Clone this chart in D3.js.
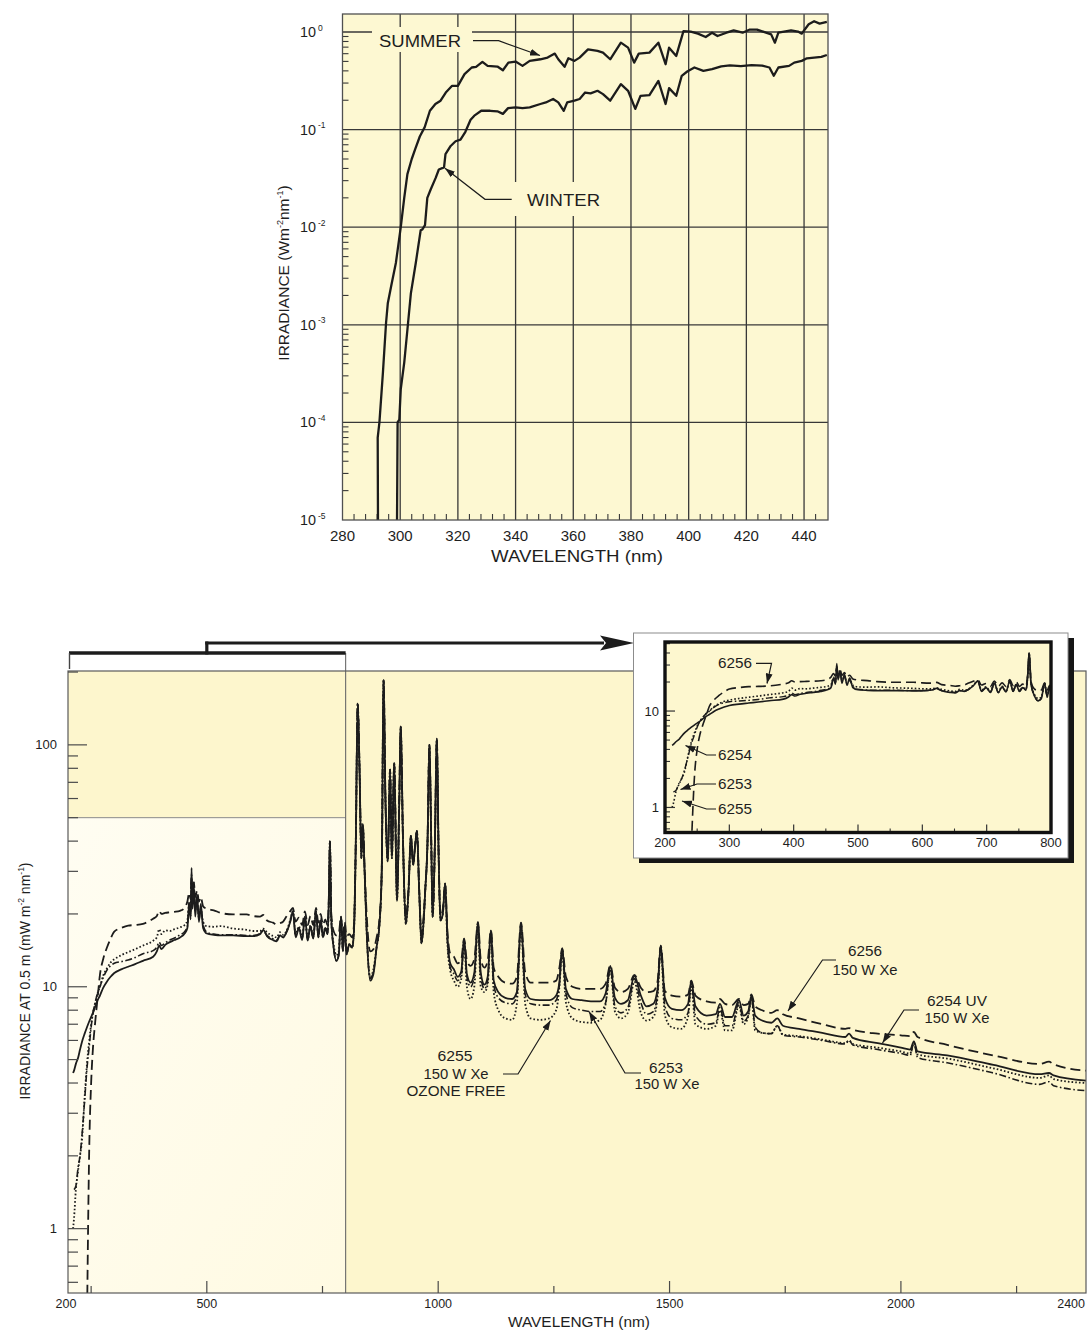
<!DOCTYPE html>
<html>
<head>
<meta charset="utf-8">
<script src="https://cdn.jsdelivr.net/npm/d3@7"></script>
<style>
html,body{margin:0;padding:0;background:#ffffff;}
svg{display:block;}
text{font-family:"Liberation Sans",Arial,Helvetica,sans-serif;fill:#1e1e1e;}
</style>
</head>
<body>
<svg id="chart" width="1090" height="1332"></svg>
<script>
// ================= DATA =================
// Top chart: solar UV irradiance, summer and winter
const summerWavelength = [292.3,292.2,292.8,294.0,295.1,295.7,297.0,298.5,300.2,301.4,
  302.5,304.0,305.2,306.8,308.5,310.3,312.2,314.0,315.8,318.0,
  320.0,322.3,324.8,326.3,328.5,330.3,333.7,335.6,337.5,340.0,
  342.4,344.9,348.6,351.1,353.6,354.8,357.0,358.3,360.4,362.2,
  365.1,368.4,370.3,372.8,376.5,379.0,381.1,382.7,386.4,389.5,
  392.0,393.2,395.7,398.2,400.7,403.2,405.9,408.1,410.0,413.1,
  415.6,418.7,421.2,423.7,426.8,428.6,429.9,431.1,435.5,437.9,
  439.2,441.6,443.5,445.4,447.9];
const summerIrradiance = [1.0e-5,7.0e-5,1.0e-4,3.2e-4,1.05e-3,1.66e-3,2.6e-3,4.3e-3,1.0e-2,2.0e-2,
  3.5e-2,5.0e-2,6.3e-2,8.5e-2,0.106,0.156,0.183,0.198,0.240,0.281,
  0.281,0.370,0.433,0.440,0.494,0.450,0.443,0.406,0.486,0.498,
  0.450,0.506,0.526,0.547,0.601,0.526,0.440,0.538,0.506,0.547,
  0.665,0.640,0.615,0.526,0.778,0.692,0.486,0.601,0.615,0.778,
  0.468,0.692,0.569,1.02,1.01,0.962,0.889,0.984,0.910,0.984,
  1.04,0.984,1.06,1.06,0.984,0.946,0.778,0.984,1.04,1.01,
  0.962,1.20,1.29,1.22,1.27];
const winterWavelength = [298.9,299.1,299.7,300.2,301.4,302.5,303.7,305.4,307.1,307.7,
  308.6,309.4,310.6,312.3,313.4,315.2,315.7,317.5,319.2,320.9,
  322.6,324.4,325.7,328.1,331.2,333.7,335.6,337.4,340.0,342.4,
  344.9,348.6,350.5,353.0,354.8,356.7,357.9,360.4,362.2,364.1,
  366.0,368.4,370.3,372.8,376.5,379.0,381.5,383.3,386.4,389.5,
  392.0,393.2,395.7,397.6,399.5,402.0,405.1,408.1,411.3,414.3,
  418.1,421.8,425.5,428.0,429.5,431.1,434.8,436.6,439.2,441.0,
  443.5,446.0,447.9];
const winterIrradiance = [1.0e-5,1.0e-4,1.07e-4,2.2e-4,4.1e-4,8.9e-4,2.1e-3,4.3e-3,9.3e-3,9.5e-3,
  1.05e-2,2.0e-2,2.45e-2,3.2e-2,3.9e-2,4.1e-2,5.6e-2,6.8e-2,7.6e-2,7.9e-2,
  9.5e-2,0.126,0.139,0.156,0.156,0.154,0.145,0.166,0.169,0.166,
  0.169,0.183,0.190,0.206,0.190,0.156,0.190,0.198,0.206,0.240,
  0.235,0.250,0.231,0.198,0.292,0.250,0.163,0.222,0.226,0.316,
  0.183,0.266,0.222,0.356,0.394,0.433,0.400,0.416,0.445,0.455,
  0.448,0.458,0.452,0.433,0.356,0.433,0.450,0.486,0.506,0.538,
  0.547,0.556,0.582];
const seasonXTicks = [280,300,320,340,360,380,400,420,440];
const seasonYDecades = [1e-5,1e-4,1e-3,1e-2,1e-1,1];
const seasonYExponents = ["-5","-4","-3","-2","-1","0"];

// Bottom chart: 150 W Xe arc lamps, irradiance at 0.5 m
const lampWavelength = [211,213,217,222,226,230,236,241,246,250,
  254,258,264,269,276,284,292,300,315,330,
  345,362,384,392,397,402,410,420,430,442,
  452,458,462,465,467,469,472,475,479,483,
  487,492,500,515,530,557,586,600,615,622,
  630,643,651,658,665,672,680,686,692,699,
  706,712,718,724,730,736,741,746,751,756,
  761,764,766,769,774,780,785,790,794,798,
  802,808,814,818,822,826,830,834,837,841,
  846,853,860,867,873,878,882,886,891,896,
  900,905,911,916,919,924,930,936,941,946,
  950,954,959,964,968,972,977,981,985,988,
  993,997,1001,1005,1010,1015,1020,1026,1034,1042,
  1050,1056,1062,1070,1078,1086,1092,1100,1107,1114,
  1120,1130,1145,1160,1170,1179,1188,1200,1220,1240,
  1255,1262,1268,1276,1290,1310,1330,1350,1362,1372,
  1382,1395,1410,1424,1438,1450,1465,1474,1481,1490,
  1505,1525,1540,1547,1556,1580,1600,1609,1620,1635,
  1650,1660,1670,1677,1685,1700,1720,1733,1745,1780,
  1830,1880,1888,1896,1950,2000,2020,2028,2036,2100,
  2200,2300,2320,2330,2400];
const lamp6254 = [4.4,4.5,4.8,5.1,5.5,5.9,6.4,6.8,7.2,7.5,
  7.8,8.2,8.8,9.2,9.9,10.5,11.0,11.4,11.8,12.1,
  12.4,12.8,13.3,14.0,14.8,14.3,14.9,15.3,15.6,16.0,
  16.6,17.5,22,19,31,21,26,19.5,24,18.5,
  22,17.5,16.6,16.4,16.3,16.3,16.2,16.2,16.5,17.2,
  16.2,15.6,15.4,16.3,16.0,16.8,18.5,20.5,16.0,17.5,
  15.6,19.5,15.5,17.8,15.8,20.5,16.0,18.8,16.0,17.5,
  16.5,24,40,19,14.5,12.8,13.5,19.5,14.0,18.0,
  13.6,15.0,14.5,17,40,148,80,34,47,30,
  16,10.6,11.3,14.6,18,30,185,60,33,79,
  34,84,22.7,60,119,40,18.2,25,42,32,
  38,44,25,15.1,18,25,40,100,40,19.4,
  40,106,35,18.8,20,26.7,16,12.5,11.8,11.0,
  11.6,15.8,11.3,10.4,11.4,18.5,11.4,10.2,11.0,17.1,
  10.6,9.5,9.0,8.9,9.5,18.4,9.8,8.9,8.8,8.8,
  9.2,10.5,14.4,9.8,8.9,8.8,8.7,8.7,9.4,12.2,
  9.0,8.5,8.8,11.1,9.2,8.3,8.5,9.8,14.8,9.0,
  8.1,8.0,8.5,10.6,8.3,7.6,7.7,8.5,7.5,7.5,
  8.8,7.6,7.9,9.2,7.6,7.25,7.1,7.4,6.9,6.7,
  6.45,6.2,6.4,6.15,5.85,5.6,5.5,5.95,5.4,5.2,
  4.75,4.35,4.4,4.3,4.09];
const lamp6253 = [null,1.45,1.5,1.8,2.0,2.4,3.4,4.6,5.7,6.8,
  7.8,8.5,9.4,10.0,10.9,11.7,12.2,12.5,12.7,12.9,
  13.2,13.7,14.1,14.6,15.3,14.8,15.2,15.6,15.9,16.4,
  16.9,17.8,22.5,19.5,29,22,27,20.5,23,19,
  21,18,16.8,16.5,16.4,16.4,16.3,16.3,16.6,17.0,
  16.3,15.8,15.6,16.3,16.0,16.8,18.5,20.5,16.2,17.5,
  15.8,19.5,15.6,17.8,15.9,20.5,16.0,18.8,16.0,17.5,
  16.5,24,40,19,14.5,12.8,13.5,19.5,14.0,18.0,
  13.6,15.0,14.5,17,40,148,80,34,47,30,
  16,10.8,11.5,14.6,18,30,185,60,33,79,
  34,84,22.7,60,119,40,18.2,25,42,32,
  38,44,25,15.1,18,25,40,100,40,19.4,
  40,106,35,18.8,20,26.7,15.5,12,11.3,10.6,
  11.2,15.6,11.0,10.0,11.0,18.3,11.0,9.8,10.6,17.0,
  10.2,9.0,8.6,8.5,9.2,18.2,9.3,8.5,8.4,8.4,
  8.8,10.2,14.2,9.4,8.2,8.0,7.9,7.9,8.6,12.0,
  8.3,7.8,8.2,10.8,8.6,7.7,7.9,9.4,14.6,8.3,
  7.4,7.3,7.8,10.4,7.6,7.0,7.1,8.2,6.9,6.9,
  8.6,7.2,7.6,9.0,6.8,6.45,6.4,6.9,6.3,6.2,
  6.0,5.8,6.0,5.75,5.5,5.3,5.2,5.9,5.1,4.85,
  4.4,3.95,4.05,3.9,3.72];
const lamp6255 = [1.0,1.1,1.45,1.75,2.0,2.3,3.5,4.8,6.0,7.0,
  7.8,8.4,9.4,10.0,11.1,11.9,12.6,13.0,13.5,13.9,
  14.3,14.8,15.5,16.0,17.3,16.5,17.1,17.0,17.3,17.6,
  18.0,18.8,22,20,27,22,25,21,22.5,19.5,
  21,18.5,17.8,17.7,17.8,17.4,17.2,17.0,17.0,17.4,
  16.8,16.2,16.0,16.8,16.4,17.0,18.8,20.5,16.5,17.8,
  16.0,19.5,15.8,18.0,16.0,20.5,16.3,19.0,16.3,17.6,
  16.8,24,40,19,15.0,13.5,14.0,19.0,14.5,17.5,
  14.0,15.0,14.5,17,40,148,80,34,47,30,
  16,11.0,11.8,14.6,18,30,185,60,33,79,
  34,84,22.7,60,119,40,18.2,25,42,32,
  38,44,25,15.1,18,25,40,100,40,19.4,
  40,106,35,18.8,20,26.7,15,11.7,10.6,10.0,
  10.8,15.5,10.0,8.9,10.0,18.0,10.0,9.5,10.2,17.0,
  9.5,8.0,7.4,7.3,8.5,18.0,8.5,7.4,7.3,7.4,
  8.0,10.0,14.0,8.6,7.4,7.15,7.1,7.3,8.5,11.8,
  7.9,7.4,7.8,10.5,7.8,7.25,7.5,9.0,14.5,7.6,
  6.8,6.7,7.5,10.0,7.0,6.7,6.9,8.0,6.6,6.6,
  8.4,7.0,7.5,9.0,6.6,6.45,6.4,6.9,6.35,6.25,
  6.05,5.85,6.0,5.8,5.6,5.4,5.3,5.85,5.25,5.05,
  4.6,4.2,4.3,4.15,4.0];
const lamp6256 = [null,null,null,null,null,null,null,0.4,2.2,4.0,
  5.6,6.9,9.0,11.2,13.0,14.5,15.8,16.9,17.5,17.9,
  18.0,18.2,19.1,19.6,20.6,20.0,20.2,20.3,20.4,20.6,
  21.2,22.5,24.5,23,28,24.5,27,23.5,25,22.5,
  23.5,21.5,21.0,20.7,20.2,19.9,19.9,19.6,19.5,19.8,
  18.8,18.4,18.1,18.3,18.6,19.5,20.5,21.2,18.6,19.3,
  18.0,20.5,18.0,19.6,18.0,21.2,18.4,20.0,18.0,19.0,
  18.0,25,40,20,17.0,16.3,16.5,19.5,16.5,18.5,
  16.2,16.5,16.0,18,40,148,80,36,47,31,
  19,14.0,14.3,16.0,19,30,185,60,34,79,
  35,84,24,60,119,40,19.5,26,42,32,
  38,44,25,16.5,19,25,40,100,40,20,
  40,106,35,19.5,21,26.7,17,13.7,13.3,12.5,
  13.0,15.8,12.8,12.2,13.0,18.5,13.0,12.0,12.8,17.1,
  12.0,11.0,10.4,10.3,11.0,18.4,11.5,10.4,10.4,10.4,
  10.6,12.0,14.4,11.0,10.0,9.8,9.8,9.8,10.3,12.3,
  9.9,9.5,9.8,11.2,9.9,9.5,9.6,10.5,14.8,9.6,
  9.2,9.1,9.3,10.6,9.2,8.7,8.6,8.9,8.5,8.4,
  8.9,8.4,8.5,9.3,8.3,8.0,7.8,8.0,7.7,7.4,
  7.0,6.7,6.75,6.65,6.4,6.3,6.25,6.5,6.2,5.75,
  5.2,4.8,4.9,4.78,4.5];
const lampXMajorTicks = [500,1000,1500,2000];
const lampXMinorTicks = [250,750,1250,1750,2250];
const lampXLabels = [200,500,1000,1500,2000,2400];
const lampYLabels = [1,10,100];
const insetXLabels = [200,300,400,500,600,700,800];
const insetXMinorTicks = [250,350,450,550,650,750];
const insetYLabels = [1,10];

// ================= DRAWING =================
const INK = "#1c1c1c";
const svg = d3.select("#chart");
const defs = svg.append("defs");
defs.append("marker").attr("id","arr").attr("viewBox","0 0 10 7")
  .attr("refX",10).attr("refY",3.5).attr("markerWidth",10).attr("markerHeight",7)
  .attr("markerUnits","userSpaceOnUse").attr("orient","auto")
  .append("path").attr("d","M0,0L10,3.5L0,7Z").attr("fill",INK);

function label(g, x, y, s, o) {
  o = o || {};
  const t = g.append("text").attr("x",x).attr("y",y).text(s)
    .attr("text-anchor", o.anchor || "middle")
    .style("font-size", (o.size || 14) + "px");
  if (o.len) t.attr("textLength", o.len).attr("lengthAdjust","spacingAndGlyphs");
  return t;
}
function isDecade(v){ const l = Math.log10(v); return Math.abs(l - Math.round(l)) < 1e-6; }

// ---------- TOP CHART ----------
const T = {l:342.5, r:828, t:14, b:520};
const tx = d3.scaleLinear().domain([280,448.3]).range([T.l,T.r]);
const ty = d3.scaleLog().domain([1e-5,1.53]).range([T.b,T.t]);
const gT = svg.append("g");
defs.append("clipPath").attr("id","clipT").append("rect")
  .attr("x",T.l).attr("y",T.t).attr("width",T.r-T.l).attr("height",T.b-T.t);
gT.append("rect").attr("x",T.l).attr("y",T.t).attr("width",T.r-T.l).attr("height",T.b-T.t)
  .attr("fill","#fdf8d2");
gT.selectAll("line.vg").data(seasonXTicks.filter(d => d > 280)).join("line")
  .attr("x1",d=>tx(d)).attr("x2",d=>tx(d)).attr("y1",T.t).attr("y2",T.b)
  .attr("stroke","#383838").attr("stroke-width",1.3);
gT.selectAll("line.hg").data(seasonYDecades.filter(d => d > 1e-5)).join("line")
  .attr("x1",T.l).attr("x2",T.r).attr("y1",d=>ty(d)).attr("y2",d=>ty(d))
  .attr("stroke","#383838").attr("stroke-width",1.3);
gT.selectAll("line.my").data(ty.ticks().filter(v => !isDecade(v))).join("line")
  .attr("x1",T.l).attr("x2",T.l+6).attr("y1",d=>ty(d)).attr("y2",d=>ty(d))
  .attr("stroke","#383838").attr("stroke-width",1.1);
gT.selectAll("line.mx").data(d3.range(284,448,4).filter(d => d % 20 !== 0)).join("line")
  .attr("x1",d=>tx(d)).attr("x2",d=>tx(d)).attr("y1",T.b).attr("y2",T.b-6)
  .attr("stroke","#383838").attr("stroke-width",1.1);
// label backgrounds interrupting the grid
gT.append("rect").attr("x",372).attr("y",27).attr("width",100).attr("height",25).attr("fill","#fdf8d2");
gT.append("rect").attr("x",513).attr("y",182).attr("width",93).attr("height",34).attr("fill","#fdf8d2");

const lineT = d3.line().x(d=>tx(d[0])).y(d=>ty(d[1]));
[[summerWavelength, summerIrradiance],[winterWavelength, winterIrradiance]].forEach(([w,v]) => {
  gT.append("path").attr("d", lineT(d3.zip(w,v))).attr("fill","none")
    .attr("stroke",INK).attr("stroke-width",2.3).attr("stroke-linejoin","round")
    .attr("clip-path","url(#clipT)");
});
gT.append("rect").attr("x",T.l).attr("y",T.t).attr("width",T.r-T.l).attr("height",T.b-T.t)
  .attr("fill","none").attr("stroke","#505050").attr("stroke-width",1.3);

// axis labels
seasonXTicks.forEach(d => label(gT, tx(d), 541, d, {size:14, len:25}));
seasonYDecades.forEach((d,i) => {
  label(gT, 300, ty(d)+5, "10", {size:14, anchor:"start", len:16});
  label(gT, 318, ty(d)-1.5, seasonYExponents[i], {size:8.5, anchor:"start"});
});
label(gT, 577, 562, "WAVELENGTH (nm)", {size:16, len:172});
{
  const yt = gT.append("text").attr("transform","translate(289,273) rotate(-90)")
    .attr("text-anchor","middle").style("font-size","15.5px");
  yt.append("tspan").text("IRRADIANCE (Wm");
  yt.append("tspan").attr("dy",-6).style("font-size","9px").text("-2");
  yt.append("tspan").attr("dy",6).text("nm");
  yt.append("tspan").attr("dy",-6).style("font-size","9px").text("-1");
  yt.append("tspan").attr("dy",6).text(")");
}
label(gT, 379, 46.5, "SUMMER", {size:16, anchor:"start", len:82});
label(gT, 527, 206, "WINTER", {size:16, anchor:"start", len:73});
gT.append("polyline").attr("points","473,40.7 498.6,40.7 540,55.5")
  .attr("fill","none").attr("stroke",INK).attr("stroke-width",1.2).attr("marker-end","url(#arr)");
gT.append("polyline").attr("points","511.7,199.3 485,199.3 445,168.3")
  .attr("fill","none").attr("stroke",INK).attr("stroke-width",1.2).attr("marker-end","url(#arr)");

// ---------- BOTTOM CHART ----------
const B = {l:68, r:1086, t:671, b:1293};
const bx = d3.scaleLinear().domain([200,2400]).range([B.l,B.r]);
const by = d3.scaleLog().domain([0.542,202]).range([B.b,B.t]);
const gB = svg.append("g");
defs.append("clipPath").attr("id","clipB").append("rect")
  .attr("x",B.l).attr("y",B.t).attr("width",B.r-B.l).attr("height",B.b-B.t);
const grad = defs.append("linearGradient").attr("id","cream").attr("x1","0").attr("x2","1").attr("y1","0").attr("y2","1");
grad.append("stop").attr("offset","0").attr("stop-color","#fffdf2");
grad.append("stop").attr("offset","1").attr("stop-color","#fffae2");
gB.append("rect").attr("x",B.l).attr("y",B.t).attr("width",B.r-B.l).attr("height",B.b-B.t)
  .attr("fill","#fdf6cd");
gB.append("rect").attr("x",bx(200)).attr("y",by(50)).attr("width",bx(800)-bx(200)).attr("height",B.b-by(50))
  .attr("fill","url(#cream)");
gB.append("line").attr("x1",bx(200)).attr("x2",bx(800)).attr("y1",by(50)).attr("y2",by(50))
  .attr("stroke","#8a8a8a").attr("stroke-width",1);
gB.append("line").attr("x1",bx(800)).attr("x2",bx(800)).attr("y1",653).attr("y2",B.b)
  .attr("stroke","#6a6a6a").attr("stroke-width",1.1);

const lampSeries = [
  {values: lamp6255, dash:"1.6,2.1", width:1.8},
  {values: lamp6253, dash:"7,2.5,1.6,2.5", width:1.6},
  {values: lamp6254, dash:null, width:1.8},
  {values: lamp6256, dash:"10,5", width:1.8}
];
function drawLamps(g, xs, ys, clip, wScale) {
  const line = d3.line().defined(d => d[1] != null)
    .x(d=>xs(d[0])).y(d=>ys(d[1])).curve(d3.curveMonotoneX);
  lampSeries.forEach(s => {
    g.append("path").attr("d", line(d3.zip(lampWavelength, s.values)))
      .attr("fill","none").attr("stroke",INK).attr("stroke-width",s.width*wScale)
      .attr("stroke-dasharray",s.dash).attr("stroke-linejoin","round")
      .attr("clip-path",`url(#${clip})`);
  });
}
drawLamps(gB, bx, by, "clipB", 1);
gB.append("rect").attr("x",B.l).attr("y",B.t).attr("width",B.r-B.l).attr("height",B.b-B.t)
  .attr("fill","none").attr("stroke","#5a5a5a").attr("stroke-width",1.2);

// ticks
gB.selectAll("line.yM").data(by.ticks().filter(isDecade)).join("line")
  .attr("x1",B.l).attr("x2",B.l+19).attr("y1",d=>by(d)).attr("y2",d=>by(d))
  .attr("stroke","#4a4a4a").attr("stroke-width",1.2);
gB.selectAll("line.ym").data(by.ticks().filter(v => !isDecade(v))).join("line")
  .attr("x1",B.l).attr("x2",B.l+10).attr("y1",d=>by(d)).attr("y2",d=>by(d))
  .attr("stroke","#4a4a4a").attr("stroke-width",1.2);
gB.selectAll("line.xM").data(lampXMajorTicks).join("line")
  .attr("x1",d=>bx(d)).attr("x2",d=>bx(d)).attr("y1",B.b).attr("y2",B.b-12)
  .attr("stroke","#4a4a4a").attr("stroke-width",1.2);
gB.selectAll("line.xm").data(lampXMinorTicks).join("line")
  .attr("x1",d=>bx(d)).attr("x2",d=>bx(d)).attr("y1",B.b).attr("y2",B.b-7)
  .attr("stroke","#4a4a4a").attr("stroke-width",1.2);
lampXLabels.forEach(d => {
  if (d === 2400) label(gB, bx(d)-1, 1308, d, {size:12.5, anchor:"end"});
  else label(gB, bx(d) - (d===200?2:0), 1308, d, {size:12.5});
});
lampYLabels.forEach(d => label(gB, 57, by(d)+4.5, d, {size:13, anchor:"end"}));
label(gB, 579, 1327, "WAVELENGTH (nm)", {size:14.5, len:142});
{
  const yt = gB.append("text").attr("transform","translate(29.5,981) rotate(-90)")
    .attr("text-anchor","middle").style("font-size","14px");
  yt.append("tspan").text("IRRADIANCE AT 0.5 m (mW m");
  yt.append("tspan").attr("dy",-6).style("font-size","8.5px").text("-2");
  yt.append("tspan").attr("dy",6).text(" nm");
  yt.append("tspan").attr("dy",-6).style("font-size","8.5px").text("-1");
  yt.append("tspan").attr("dy",6).text(")");
}

// annotations
function leader(g, pts) {
  g.append("polyline").attr("points", pts).attr("fill","none")
    .attr("stroke",INK).attr("stroke-width",1.2).attr("marker-end","url(#arr)");
}
label(gB, 865, 956, "6256", {size:14, len:34});
label(gB, 865, 975, "150 W Xe", {size:14, len:65});
leader(gB, "836,960 822.5,960 788,1011");
label(gB, 957, 1006, "6254 UV", {size:14, len:60});
label(gB, 957, 1023, "150 W Xe", {size:14, len:65});
leader(gB, "919,1010 904,1010 882.5,1043");
label(gB, 666, 1073, "6253", {size:14, len:34});
label(gB, 667, 1089, "150 W Xe", {size:14, len:65});
leader(gB, "641,1073 625,1073 589,1011.5");
label(gB, 455, 1061, "6255", {size:14, len:35});
label(gB, 456, 1079, "150 W Xe", {size:14, len:65});
label(gB, 456, 1096, "OZONE FREE", {size:14, len:99});
leader(gB, "503,1074 518,1074 550.5,1020.5");

// bracket and arrow to the inset
gB.append("line").attr("x1",bx(200)+1).attr("x2",bx(800)).attr("y1",653).attr("y2",653)
  .attr("stroke",INK).attr("stroke-width",3.6);
gB.append("line").attr("x1",bx(200)+1.5).attr("x2",bx(200)+1.5).attr("y1",653).attr("y2",669)
  .attr("stroke","#444").attr("stroke-width",1.4);
gB.append("line").attr("x1",bx(500)).attr("x2",bx(500)).attr("y1",654.5).attr("y2",641.5)
  .attr("stroke",INK).attr("stroke-width",3.2);
gB.append("line").attr("x1",bx(500)-1.6).attr("x2",604).attr("y1",643).attr("y2",643)
  .attr("stroke",INK).attr("stroke-width",3.2);
gB.append("path").attr("d","M600,635.5 L634,643 L600,650.5 L606,643 Z").attr("fill",INK);

// ---------- INSET ----------
const I = {l:665, r:1051, t:642, b:832.5};
const ix = d3.scaleLinear().domain([200,800]).range([I.l,I.r]);
const iy = d3.scaleLog().domain([0.55,52]).range([I.b,I.t]);
const gI = svg.append("g");
defs.append("clipPath").attr("id","clipI").append("rect")
  .attr("x",I.l).attr("y",I.t).attr("width",I.r-I.l).attr("height",I.b-I.t);
gI.append("rect").attr("x",639).attr("y",638).attr("width",435).attr("height",225).attr("fill","#161616");
gI.append("rect").attr("x",633.5).attr("y",633).attr("width",434.5).attr("height",225)
  .attr("fill","#ffffff").attr("stroke","#8c8c8c").attr("stroke-width",1);
gI.append("rect").attr("x",I.l).attr("y",I.t).attr("width",I.r-I.l).attr("height",I.b-I.t)
  .attr("fill","#fdf7cf");
drawLamps(gI, ix, iy, "clipI", 0.9);
gI.selectAll("line.iyM").data(iy.ticks().filter(isDecade)).join("line")
  .attr("x1",I.l).attr("x2",I.l+10).attr("y1",d=>iy(d)).attr("y2",d=>iy(d))
  .attr("stroke","#333").attr("stroke-width",1.2);
gI.selectAll("line.iym").data(iy.ticks().filter(v => !isDecade(v))).join("line")
  .attr("x1",I.l).attr("x2",I.l+5).attr("y1",d=>iy(d)).attr("y2",d=>iy(d))
  .attr("stroke","#333").attr("stroke-width",1.1);
gI.selectAll("line.ixM").data(insetXLabels.slice(1,-1)).join("line")
  .attr("x1",d=>ix(d)).attr("x2",d=>ix(d)).attr("y1",I.b).attr("y2",I.b-8)
  .attr("stroke","#333").attr("stroke-width",1.2);
gI.selectAll("line.ixm").data(insetXMinorTicks).join("line")
  .attr("x1",d=>ix(d)).attr("x2",d=>ix(d)).attr("y1",I.b).attr("y2",I.b-4)
  .attr("stroke","#333").attr("stroke-width",1.1);
gI.append("rect").attr("x",I.l).attr("y",I.t).attr("width",I.r-I.l).attr("height",I.b-I.t)
  .attr("fill","none").attr("stroke","#111").attr("stroke-width",3.4);
insetXLabels.forEach(d => label(gI, ix(d), 847, d, {size:13}));
insetYLabels.forEach(d => label(gI, 659, iy(d)+4.5, d, {size:13, anchor:"end"}));
label(gI, 718, 668, "6256", {size:14, anchor:"start", len:34});
label(gI, 718, 760, "6254", {size:14, anchor:"start", len:34});
label(gI, 718, 789, "6253", {size:14, anchor:"start", len:34});
label(gI, 718, 814, "6255", {size:14, anchor:"start", len:34});
leader(gI, "756,663.3 771.5,663.3 767,683.5");
leader(gI, "716,755 706.5,755 685.5,745.5");
leader(gI, "716,784 697,784 680.5,789.5");
leader(gI, "716,809 706.5,809 682,801");
</script>
</body>
</html>
